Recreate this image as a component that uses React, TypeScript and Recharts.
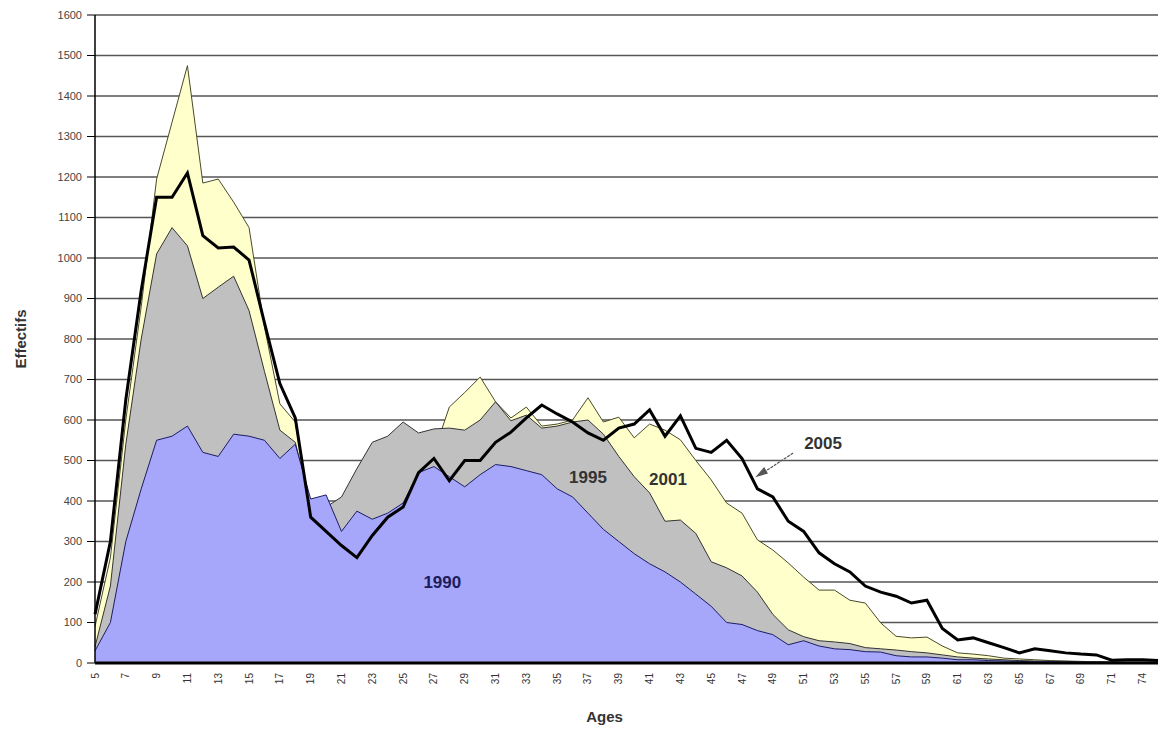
import {
  ComposedChart,
  Area,
  Line,
  XAxis,
  YAxis,
  CartesianGrid,
  ReferenceDot,
} from 'recharts';

const ages = [
  5, 6, 7, 8, 9, 10, 11, 12, 13, 14, 15, 16, 17, 18, 19, 20, 21, 22, 23, 24,
  25, 26, 27, 28, 29, 30, 31, 32, 33, 34, 35, 36, 37, 38, 39, 40, 41, 42, 43,
  44, 45, 46, 47, 48, 49, 50, 51, 52, 53, 54, 55, 56, 57, 58, 59, 60, 61, 62,
  63, 64, 65, 66, 67, 68, 69, 70, 71, 72, 74, 75,
];

const pop1990 = [
  30, 100, 300, 430, 550, 560, 585, 520, 510, 565, 560, 550, 505, 540, 405,
  415, 325, 375, 355, 370, 395, 470, 485, 460, 435, 465, 490, 485, 475, 465,
  430, 410, 370, 330, 300, 270, 245, 225, 200, 170, 140, 100, 95, 80, 70, 45,
  55, 42, 35, 33, 28, 27, 18, 15, 15, 12, 8, 8, 6, 5, 4, 3, 3, 2, 2, 2, 1, 1,
  1, 1,
];

const pop1995 = [
  40, 190, 540, 800, 1010, 1075, 1030, 900, 928, 955, 870, 720, 575, 545, 390,
  385, 410, 480, 545, 560, 595, 568, 578, 580, 575, 600, 645, 598, 612, 580,
  585, 595, 600, 565, 510, 460, 420, 350, 353, 320, 250, 235, 215, 175, 120,
  82, 65, 55, 52, 48, 38, 35, 32, 28, 25, 20, 15, 12, 10, 8, 6, 5, 4, 4, 3, 3,
  2, 2, 2, 1,
];

const pop2001 = [
  90, 260, 600, 880, 1195, 1335, 1475, 1185, 1195, 1138, 1075, 830, 640, 595,
  370, 340, 300, 280, 330, 365, 400, 460, 520, 632, 668, 706, 645, 605, 632,
  585, 590, 600, 655, 595, 607, 556, 590, 575, 551, 500, 452, 395, 370, 304,
  279, 247, 212, 180, 180, 155, 148, 99, 66, 62, 64, 42, 25, 22, 18, 12, 10, 8,
  6, 5, 4, 3, 3, 2, 2, 2,
];

const pop2005 = [
  120, 300, 650, 920, 1150, 1150, 1210, 1055, 1025, 1027, 995, 840, 690, 605,
  360, 325, 290, 260, 315, 360, 385, 470, 505, 450, 500, 500, 545, 570, 605,
  637, 615, 595, 568, 550, 580, 590, 625, 560, 610, 530, 520, 550, 505, 430,
  410, 350, 325, 272, 245, 225, 190, 175, 165, 148, 155, 85, 57, 62, 50, 38,
  25, 35, 30, 25, 22, 20, 7, 8, 8, 6,
];

const yTicks = [
  0, 100, 200, 300, 400, 500, 600, 700, 800, 900, 1000, 1100, 1200, 1300, 1400,
  1500, 1600,
];

const data = ages.map((age, i) => ({
  age,
  y1990: pop1990[i],
  y1995: pop1995[i],
  y2001: pop2001[i],
  y2005: pop2005[i],
}));

const font = '"Liberation Sans", Arial, sans-serif';

function AgeTick({ x, y, payload }: any) {
  const ty = y + 2;
  return (
    <text
      x={x}
      y={ty}
      transform={`rotate(-90 ${x} ${ty})`}
      textAnchor="end"
      dominantBaseline="central"
      fontSize={10}
      fontFamily={font}
      fill="#333"
    >
      {payload.value}
    </text>
  );
}

function yearTag(text: string, dx: number, color: string, arrow = false) {
  return ({ viewBox }: any) => {
    const cx = viewBox.x + dx;
    const cy = viewBox.y;
    return (
      <g>
        <text
          x={cx}
          y={cy}
          textAnchor="middle"
          dominantBaseline="central"
          fontSize={17}
          fontWeight="bold"
          fontFamily={font}
          fill={color}
        >
          {text}
        </text>
        {arrow && (
          <g stroke="#555" strokeWidth={1.2} fill="#555">
            <line x1={cx - 30} y1={cy + 10} x2={cx - 62} y2={cy + 31} strokeDasharray="3 1" />
            <path d={`M${cx - 66} ${cy + 33} l7 -8 l3 5 z`} />
          </g>
        )}
      </g>
    );
  };
}

export default function App() {
  return (
    <div style={{ width: 1160, height: 738, background: '#fff' }}>
      <style>{'body{margin:0}'}</style>
      <ComposedChart
        width={1160}
        height={738}
        data={data}
        margin={{ top: 15, right: 2, left: 0, bottom: 0 }}
      >
        <CartesianGrid vertical={false} stroke="#555" strokeWidth={1.5} />
        <XAxis
          dataKey="age"
          scale="point"
          interval={1}
          height={75}
          tickLine={false}
          axisLine={{ stroke: '#000', strokeWidth: 3 }}
          tick={<AgeTick />}
          label={{
            content: ({ viewBox }: any) => (
              <text
                x={viewBox.x + viewBox.width / 2 - 22}
                y={viewBox.y + 53}
                textAnchor="middle"
                dominantBaseline="central"
                fontSize={15}
                fontWeight="bold"
                fontFamily={font}
                fill="#333"
              >
                Ages
              </text>
            ),
          }}
        />
        <YAxis
          domain={[0, 1600]}
          ticks={yTicks}
          interval={0}
          width={95}
          tickSize={8}
          tickMargin={5}
          axisLine={{ stroke: '#000', strokeWidth: 1.5 }}
          tickLine={{ stroke: '#000' }}
          tick={{ fontSize: 11, fill: '#444', fontFamily: font }}
          label={{
            content: ({ viewBox }: any) => {
              const lx = viewBox.x + 20;
              const ly = viewBox.y + viewBox.height / 2;
              return (
                <text
                  x={lx}
                  y={ly}
                  transform={`rotate(-90 ${lx} ${ly})`}
                  textAnchor="middle"
                  dominantBaseline="central"
                  fontSize={15}
                  fontWeight="bold"
                  fontFamily={font}
                  fill="#333"
                >
                  Effectifs
                </text>
              );
            },
          }}
        />
        <Area
          type="linear"
          dataKey="y2001"
          fill="#FFFFCC"
          fillOpacity={1}
          stroke="#4a4a2a"
          strokeWidth={1}
          isAnimationActive={false}
        />
        <Area
          type="linear"
          dataKey="y1995"
          fill="#C0C0C0"
          fillOpacity={1}
          stroke="#333"
          strokeWidth={1}
          isAnimationActive={false}
        />
        <Area
          type="linear"
          dataKey="y1990"
          fill="#A6A6FA"
          fillOpacity={1}
          stroke="#1c1c66"
          strokeWidth={1}
          isAnimationActive={false}
        />
        <Line
          type="linear"
          dataKey="y2005"
          stroke="#000"
          strokeWidth={3}
          dot={false}
          isAnimationActive={false}
        />
        <ReferenceDot x={28} y={200} r={0} stroke="none" label={{ content: yearTag('1990', -7, '#1c1c5c') }} />
        <ReferenceDot x={37} y={459} r={0} stroke="none" label={{ content: yearTag('1995', 0, '#333') }} />
        <ReferenceDot x={42} y={452} r={0} stroke="none" label={{ content: yearTag('2001', 3, '#333') }} />
        <ReferenceDot x={52} y={543} r={0} stroke="none" label={{ content: yearTag('2005', 4, '#333', true) }} />
      </ComposedChart>
    </div>
  );
}
